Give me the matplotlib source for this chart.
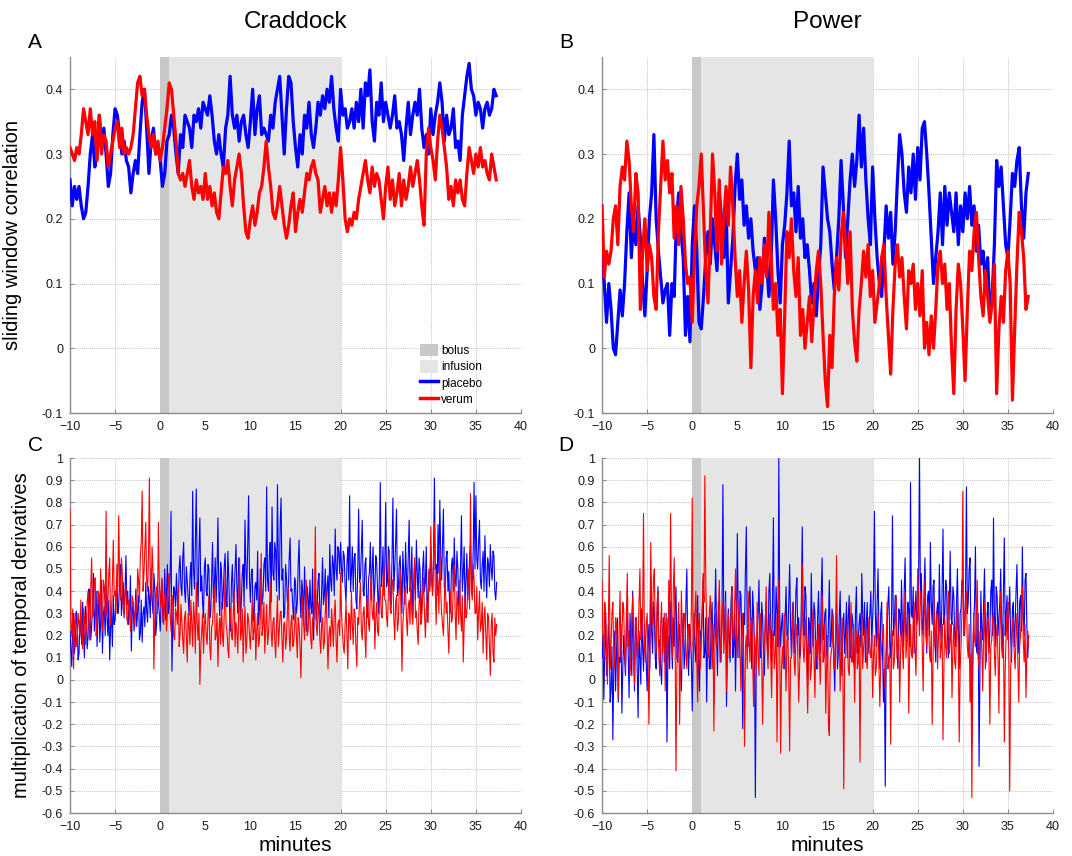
import numpy as np
import matplotlib
matplotlib.use("Agg")
import matplotlib.pyplot as plt
from matplotlib.patches import Patch
from matplotlib.lines import Line2D

plt.rcParams['font.family'] = ['Liberation Sans', 'DejaVu Sans']

# sliding window correlation, sampled every 0.25 min starting at -10 min
sw_craddock_placebo = [
    0.26, 0.22, 0.25, 0.23, 0.25, 0.22, 0.20, 0.21, 0.25, 0.30, 0.33, 0.28, 0.30, 0.36, 0.31, 0.34, 0.30, 0.25, 0.27, 0.33,
    0.37, 0.36, 0.33, 0.30, 0.32, 0.29, 0.28, 0.24, 0.27, 0.29, 0.27, 0.33, 0.38, 0.40, 0.34, 0.27, 0.32, 0.34, 0.30, 0.31,
    0.29, 0.25, 0.27, 0.32, 0.33, 0.36, 0.34, 0.30, 0.27, 0.33, 0.31, 0.36, 0.35, 0.34, 0.31, 0.36, 0.35, 0.37, 0.34, 0.38,
    0.37, 0.36, 0.39, 0.36, 0.32, 0.30, 0.33, 0.30, 0.28, 0.34, 0.36, 0.42, 0.36, 0.34, 0.36, 0.32, 0.35, 0.36, 0.33, 0.31,
    0.35, 0.40, 0.33, 0.37, 0.39, 0.33, 0.34, 0.33, 0.32, 0.36, 0.34, 0.38, 0.40, 0.42, 0.36, 0.30, 0.37, 0.42, 0.41, 0.35,
    0.31, 0.28, 0.33, 0.30, 0.36, 0.34, 0.38, 0.33, 0.31, 0.34, 0.38, 0.36, 0.39, 0.37, 0.40, 0.38, 0.42, 0.37, 0.34, 0.32,
    0.40, 0.36, 0.37, 0.34, 0.35, 0.37, 0.34, 0.38, 0.35, 0.40, 0.34, 0.41, 0.39, 0.43, 0.35, 0.32, 0.38, 0.36, 0.41, 0.35,
    0.38, 0.36, 0.34, 0.36, 0.39, 0.34, 0.35, 0.33, 0.29, 0.34, 0.38, 0.33, 0.36, 0.38, 0.36, 0.40, 0.34, 0.31, 0.33, 0.30,
    0.37, 0.33, 0.36, 0.38, 0.41, 0.38, 0.32, 0.36, 0.33, 0.34, 0.37, 0.31, 0.32, 0.29, 0.36, 0.39, 0.42, 0.44, 0.40, 0.39,
    0.36, 0.38, 0.37, 0.34, 0.37, 0.38, 0.36, 0.37, 0.40, 0.39]
sw_craddock_verum = [
    0.31, 0.30, 0.29, 0.31, 0.30, 0.33, 0.37, 0.35, 0.33, 0.37, 0.33, 0.35, 0.29, 0.36, 0.30, 0.33, 0.32, 0.28, 0.30, 0.32,
    0.34, 0.35, 0.31, 0.34, 0.30, 0.31, 0.30, 0.31, 0.33, 0.37, 0.41, 0.42, 0.39, 0.40, 0.36, 0.33, 0.31, 0.33, 0.30, 0.32,
    0.29, 0.31, 0.34, 0.37, 0.41, 0.40, 0.36, 0.32, 0.27, 0.26, 0.27, 0.25, 0.27, 0.29, 0.25, 0.23, 0.26, 0.24, 0.25, 0.23,
    0.27, 0.23, 0.25, 0.22, 0.24, 0.21, 0.20, 0.24, 0.28, 0.27, 0.29, 0.25, 0.22, 0.26, 0.28, 0.30, 0.27, 0.22, 0.18, 0.17,
    0.20, 0.22, 0.19, 0.21, 0.24, 0.25, 0.28, 0.32, 0.28, 0.25, 0.21, 0.20, 0.22, 0.25, 0.22, 0.19, 0.17, 0.19, 0.22, 0.24,
    0.18, 0.21, 0.23, 0.21, 0.24, 0.27, 0.26, 0.28, 0.29, 0.27, 0.26, 0.21, 0.23, 0.25, 0.22, 0.24, 0.21, 0.24, 0.22, 0.26,
    0.31, 0.26, 0.20, 0.18, 0.20, 0.19, 0.21, 0.20, 0.23, 0.25, 0.27, 0.29, 0.26, 0.24, 0.28, 0.25, 0.27, 0.26, 0.23, 0.20,
    0.25, 0.28, 0.23, 0.26, 0.22, 0.24, 0.27, 0.22, 0.26, 0.23, 0.25, 0.28, 0.25, 0.27, 0.29, 0.26, 0.22, 0.19, 0.30, 0.34,
    0.31, 0.29, 0.26, 0.32, 0.36, 0.34, 0.31, 0.28, 0.23, 0.25, 0.22, 0.26, 0.24, 0.26, 0.23, 0.22, 0.27, 0.31, 0.29, 0.27,
    0.30, 0.28, 0.31, 0.28, 0.29, 0.27, 0.26, 0.30, 0.28, 0.26]
sw_power_placebo = [
    0.15, 0.10, 0.04, 0.10, 0.06, 0.00, -0.01, 0.04, 0.09, 0.05, 0.10, 0.18, 0.24, 0.14, 0.20, 0.16, 0.22, 0.17, 0.10, 0.05,
    0.12, 0.20, 0.24, 0.33, 0.20, 0.15, 0.11, 0.07, 0.09, 0.10, 0.02, 0.10, 0.08, 0.20, 0.24, 0.18, 0.14, 0.02, 0.08, 0.01,
    0.16, 0.22, 0.15, 0.04, 0.03, 0.08, 0.14, 0.18, 0.13, 0.20, 0.16, 0.12, 0.24, 0.20, 0.14, 0.22, 0.07, 0.12, 0.17, 0.25,
    0.30, 0.23, 0.26, 0.19, 0.22, 0.17, 0.20, 0.15, 0.12, 0.14, 0.06, 0.10, 0.17, 0.13, 0.08, 0.14, 0.26, 0.20, 0.12, 0.07,
    0.16, 0.19, 0.24, 0.32, 0.22, 0.24, 0.18, 0.25, 0.17, 0.20, 0.14, 0.16, 0.12, 0.07, 0.10, 0.05, 0.11, 0.16, 0.28, 0.24,
    0.20, 0.18, 0.13, 0.09, 0.14, 0.20, 0.29, 0.22, 0.14, 0.20, 0.26, 0.30, 0.25, 0.29, 0.36, 0.28, 0.34, 0.26, 0.20, 0.16,
    0.28, 0.20, 0.14, 0.10, 0.08, 0.15, 0.22, 0.17, 0.21, 0.13, 0.18, 0.26, 0.33, 0.30, 0.24, 0.21, 0.28, 0.24, 0.30, 0.23,
    0.31, 0.26, 0.34, 0.35, 0.30, 0.24, 0.17, 0.10, 0.14, 0.18, 0.24, 0.16, 0.25, 0.19, 0.24, 0.21, 0.18, 0.24, 0.16, 0.22,
    0.18, 0.24, 0.20, 0.25, 0.19, 0.22, 0.15, 0.19, 0.13, 0.15, 0.10, 0.14, 0.05, 0.08, 0.16, 0.29, 0.25, 0.28, 0.22, 0.16,
    0.14, 0.20, 0.27, 0.25, 0.29, 0.31, 0.22, 0.17, 0.24, 0.27]
sw_power_verum = [
    0.22, 0.11, 0.15, 0.13, 0.15, 0.20, 0.22, 0.16, 0.25, 0.28, 0.26, 0.32, 0.29, 0.22, 0.18, 0.27, 0.24, 0.06, 0.15, 0.20,
    0.12, 0.16, 0.14, 0.08, 0.06, 0.18, 0.25, 0.32, 0.26, 0.29, 0.24, 0.27, 0.17, 0.22, 0.16, 0.25, 0.20, 0.13, 0.10, 0.11,
    0.04, 0.14, 0.22, 0.25, 0.30, 0.21, 0.12, 0.07, 0.18, 0.30, 0.24, 0.15, 0.26, 0.13, 0.20, 0.25, 0.19, 0.28, 0.22, 0.14,
    0.08, 0.12, 0.04, 0.10, 0.15, 0.09, -0.03, 0.08, 0.12, 0.07, 0.14, 0.10, 0.16, 0.11, 0.21, 0.14, 0.06, 0.10, 0.02, 0.06,
    -0.07, 0.05, 0.18, 0.14, 0.20, 0.12, 0.08, 0.14, 0.02, 0.06, 0.00, 0.04, 0.08, 0.01, 0.07, 0.12, 0.15, 0.10, 0.02, -0.05,
    -0.09, 0.02, -0.03, 0.08, 0.14, 0.09, 0.17, 0.21, 0.16, 0.10, 0.18, 0.06, 0.01, -0.02, 0.06, 0.10, 0.15, 0.11, 0.16, 0.08,
    0.12, 0.04, 0.07, 0.10, 0.14, 0.16, 0.08, 0.02, -0.04, 0.06, 0.13, 0.16, 0.11, 0.14, 0.08, 0.03, 0.12, 0.10, 0.13, 0.06,
    0.10, 0.05, 0.12, 0.00, 0.04, -0.01, 0.05, 0.00, 0.06, 0.13, 0.15, 0.10, 0.13, 0.06, 0.10, 0.00, -0.07, 0.06, 0.13, 0.10,
    0.03, -0.05, 0.06, 0.15, 0.12, 0.18, 0.21, 0.14, 0.08, 0.05, 0.12, 0.08, 0.04, 0.07, 0.13, -0.07, 0.03, 0.08, 0.04, 0.12,
    0.15, 0.10, -0.08, 0.03, 0.13, 0.21, 0.18, 0.14, 0.06, 0.08]

# multiplication of temporal derivatives, sampled every 0.1 min starting at -10 min
mtd_craddock_placebo = [
    0.22, 0.14, 0.06, 0.25, 0.30, 0.12, 0.18, 0.31, 0.26, 0.09, 0.12, 0.27, 0.22, 0.16, 0.35, 0.20, 0.10, 0.33, 0.28, 0.14, 0.19, 0.41, 0.36, 0.18, 0.24, 0.35, 0.48, 0.22, 0.30, 0.40, 0.15, 0.28, 0.39, 0.17, 0.26, 0.45, 0.12, 0.30, 0.33, 0.20, 0.42, 0.28, 0.20, 0.36, 0.09, 0.24, 0.30, 0.15, 0.38, 0.25,
    0.27, 0.38, 0.45, 0.30, 0.33, 0.46, 0.52, 0.29, 0.36, 0.44, 0.28, 0.40, 0.56, 0.34, 0.40, 0.25, 0.31, 0.47, 0.13, 0.30, 0.35, 0.22, 0.29, 0.41, 0.24, 0.32, 0.38, 0.18, 0.21, 0.36, 0.17, 0.30, 0.33, 0.24, 0.44, 0.31, 0.26, 0.42, 0.37, 0.28, 0.50, 0.36, 0.30, 0.48, 0.41, 0.20, 0.25, 0.44, 0.35, 0.30,
    0.22, 0.35, 0.45, 0.26, 0.31, 0.50, 0.27, 0.40, 0.52, 0.30, 0.33, 0.48, 0.76, 0.04, 0.25, 0.42, 0.40, 0.33, 0.48, 0.36, 0.30, 0.50, 0.56, 0.42, 0.38, 0.55, 0.62, 0.40, 0.35, 0.51, 0.44, 0.37, 0.29, 0.46, 0.53, 0.38, 0.85, 0.50, 0.41, 0.62, 0.86, 0.45, 0.33, 0.58, 0.73, 0.40, 0.47, 0.35, 0.28, 0.51,
    0.55, 0.40, 0.38, 0.52, 0.50, 0.28, 0.31, 0.45, 0.62, 0.37, 0.43, 0.55, 0.35, 0.49, 0.73, 0.40, 0.29, 0.53, 0.48, 0.32, 0.40, 0.51, 0.57, 0.38, 0.33, 0.58, 0.46, 0.30, 0.22, 0.44, 0.52, 0.35, 0.38, 0.50, 0.61, 0.42, 0.30, 0.55, 0.47, 0.26, 0.36, 0.48, 0.52, 0.33, 0.72, 0.50, 0.41, 0.60, 0.83, 0.45,
    0.35, 0.48, 0.50, 0.30, 0.26, 0.42, 0.44, 0.36, 0.58, 0.25, 0.32, 0.50, 0.47, 0.34, 0.38, 0.52, 0.55, 0.40, 0.87, 0.45, 0.40, 0.56, 0.62, 0.35, 0.78, 0.48, 0.45, 0.62, 0.58, 0.40, 0.88, 0.52, 0.36, 0.70, 0.82, 0.45, 0.50, 0.28, 0.30, 0.52, 0.46, 0.35, 0.38, 0.55, 0.64, 0.40, 0.41, 0.33, 0.27, 0.46,
    0.44, 0.30, 0.35, 0.52, 0.63, 0.38, 0.28, 0.45, 0.40, 0.25, 0.51, 0.36, 0.22, 0.42, 0.37, 0.28, 0.45, 0.33, 0.30, 0.50, 0.18, 0.35, 0.41, 0.27, 0.33, 0.44, 0.48, 0.30, 0.26, 0.40, 0.55, 0.34, 0.38, 0.50, 0.30, 0.42, 0.47, 0.28, 0.61, 0.45, 0.40, 0.56, 0.52, 0.38, 0.68, 0.50, 0.45, 0.60, 0.58, 0.48,
    0.62, 0.50, 0.44, 0.58, 0.56, 0.42, 0.35, 0.52, 0.60, 0.45, 0.83, 0.40, 0.48, 0.60, 0.40, 0.55, 0.57, 0.36, 0.32, 0.50, 0.77, 0.44, 0.46, 0.58, 0.72, 0.40, 0.38, 0.52, 0.55, 0.34, 0.28, 0.45, 0.49, 0.62, 0.36, 0.50, 0.60, 0.35, 0.42, 0.56, 0.53, 0.40, 0.30, 0.48, 0.89, 0.42, 0.47, 0.60, 0.38, 0.52,
    0.80, 0.42, 0.45, 0.60, 0.58, 0.36, 0.34, 0.55, 0.82, 0.40, 0.50, 0.62, 0.77, 0.38, 0.41, 0.52, 0.56, 0.45, 0.30, 0.58, 0.48, 0.34, 0.62, 0.47, 0.39, 0.56, 0.72, 0.40, 0.45, 0.60, 0.28, 0.42, 0.52, 0.36, 0.63, 0.48, 0.37, 0.55, 0.50, 0.30, 0.33, 0.50, 0.58, 0.40, 0.44, 0.60, 0.26, 0.38, 0.49, 0.42,
    0.60, 0.45, 0.40, 0.55, 0.91, 0.50, 0.52, 0.38, 0.70, 0.48, 0.81, 0.56, 0.45, 0.62, 0.77, 0.42, 0.38, 0.55, 0.58, 0.40, 0.49, 0.30, 0.33, 0.52, 0.55, 0.40, 0.64, 0.46, 0.42, 0.58, 0.50, 0.34, 0.36, 0.52, 0.74, 0.40, 0.48, 0.60, 0.30, 0.45, 0.57, 0.36, 0.44, 0.55, 0.62, 0.46, 0.40, 0.58, 0.89, 0.50,
    0.83, 0.55, 0.50, 0.62, 0.72, 0.45, 0.41, 0.52, 0.58, 0.40, 0.65, 0.48, 0.37, 0.55, 0.52, 0.42, 0.61, 0.50, 0.45, 0.58, 0.56, 0.40, 0.36, 0.44]
mtd_craddock_verum = [
    0.77, 0.25, 0.20, 0.32, 0.05, 0.26, 0.30, 0.15, 0.18, 0.30, 0.25, 0.20, 0.36, 0.22, 0.14, 0.32, 0.28, 0.16, 0.22, 0.35, 0.40, 0.26, 0.18, 0.42, 0.55, 0.28, 0.30, 0.45, 0.46, 0.20, 0.25, 0.40, 0.38, 0.30, 0.50, 0.26, 0.22, 0.45, 0.42, 0.28, 0.76, 0.30, 0.35, 0.48, 0.55, 0.25, 0.30, 0.44, 0.63, 0.38,
    0.40, 0.30, 0.52, 0.42, 0.74, 0.45, 0.36, 0.55, 0.48, 0.32, 0.30, 0.40, 0.42, 0.28, 0.25, 0.36, 0.33, 0.22, 0.28, 0.38, 0.35, 0.30, 0.24, 0.36, 0.30, 0.50, 0.45, 0.35, 0.56, 0.62, 0.85, 0.40, 0.48, 0.60, 0.71, 0.45, 0.40, 0.55, 0.91, 0.42, 0.36, 0.60, 0.50, 0.05, 0.27, 0.38, 0.42, 0.30, 0.71, 0.45,
    0.33, 0.40, 0.46, 0.28, 0.25, 0.38, 0.40, 0.22, 0.30, 0.45, 0.48, 0.30, 0.22, 0.38, 0.35, 0.20, 0.18, 0.32, 0.30, 0.25, 0.42, 0.15, 0.20, 0.34, 0.26, 0.18, 0.12, 0.28, 0.31, 0.20, 0.08, 0.30, 0.24, 0.16, 0.36, 0.25, 0.15, 0.35, 0.28, 0.12, 0.44, 0.26, 0.18, 0.30, -0.02, 0.15, 0.22, 0.30, 0.12, 0.25,
    0.30, 0.20, 0.16, 0.28, 0.38, 0.15, 0.09, 0.24, 0.25, 0.35, 0.42, 0.18, 0.20, 0.30, 0.06, 0.22, 0.28, 0.16, 0.35, 0.20, 0.15, 0.30, 0.48, 0.25, 0.22, 0.14, 0.10, 0.28, 0.32, 0.20, 0.18, 0.30, 0.40, 0.15, 0.26, 0.22, 0.12, 0.30, 0.55, 0.18, 0.21, 0.32, 0.08, 0.25, 0.33, 0.12, 0.17, 0.30, 0.27, 0.20,
    0.14, 0.25, 0.36, 0.18, 0.22, 0.30, 0.09, 0.22, 0.30, 0.15, 0.18, 0.28, 0.57, 0.20, 0.25, 0.35, 0.12, 0.24, 0.34, 0.16, 0.20, 0.30, 0.44, 0.22, 0.15, 0.26, 0.28, 0.18, 0.10, 0.25, 0.38, 0.15, 0.22, 0.30, 0.31, 0.18, 0.08, 0.25, 0.26, 0.14, 0.19, 0.30, 0.42, 0.20, 0.13, 0.26, 0.29, 0.15, 0.17, 0.24,
    0.33, 0.20, 0.10, 0.28, 0.24, 0.15, 0.01, 0.22, 0.38, 0.26, 0.18, 0.30, 0.45, 0.20, 0.22, 0.32, 0.30, 0.18, 0.14, 0.28, 0.26, 0.35, 0.69, 0.25, 0.20, 0.30, 0.35, 0.18, 0.12, 0.25, 0.28, 0.14, 0.17, 0.30, 0.40, 0.22, 0.05, 0.20, 0.24, 0.15, 0.32, 0.25, 0.15, 0.30, 0.36, 0.18, 0.08, 0.25, 0.27, 0.20,
    0.48, 0.30, 0.22, 0.15, 0.12, 0.25, 0.35, 0.20, 0.05, 0.30, 0.28, 0.18, 0.40, 0.25, 0.16, 0.32, 0.30, 0.15, 0.06, 0.28, 0.25, 0.36, 0.44, 0.22, 0.18, 0.30, 0.33, 0.20, 0.10, 0.34, 0.38, 0.25, 0.22, 0.40, 0.48, 0.30, 0.27, 0.38, 0.14, 0.28, 0.35, 0.22, 0.20, 0.35, 0.42, 0.30, 0.28, 0.44, 0.52, 0.36,
    0.36, 0.28, 0.24, 0.40, 0.58, 0.32, 0.30, 0.45, 0.45, 0.28, 0.18, 0.35, 0.38, 0.22, 0.26, 0.40, 0.50, 0.30, 0.04, 0.25, 0.32, 0.40, 0.42, 0.28, 0.20, 0.33, 0.36, 0.25, 0.48, 0.30, 0.25, 0.42, 0.55, 0.28, 0.31, 0.22, 0.16, 0.35, 0.40, 0.25, 0.28, 0.38, 0.46, 0.30, 0.19, 0.32, 0.35, 0.26, 0.50, 0.40,
    0.69, 0.45, 0.38, 0.55, 0.71, 0.40, 0.25, 0.48, 0.44, 0.30, 0.58, 0.40, 0.30, 0.25, 0.20, 0.35, 0.47, 0.30, 0.35, 0.22, 0.12, 0.30, 0.40, 0.26, 0.28, 0.45, 0.52, 0.30, 0.18, 0.40, 0.34, 0.25, 0.45, 0.30, 0.22, 0.38, 0.08, 0.25, 0.38, 0.28, 0.30, 0.42, 0.50, 0.32, 0.84, 0.40, 0.36, 0.52, 0.45, 0.30,
    0.30, 0.42, 0.18, 0.30, 0.40, 0.22, 0.25, 0.35, 0.12, 0.28, 0.33, 0.20, 0.09, 0.30, 0.28, 0.15, 0.02, 0.25, 0.30, 0.12, 0.08, 0.28, 0.20, 0.25]
mtd_power_placebo = [
    0.10, 0.20, -0.09, 0.12, 0.30, 0.02, 0.05, 0.25, 0.18, -0.10, -0.04, 0.15, -0.27, 0.05, 0.22, -0.05, 0.12, 0.28, -0.10, 0.10, 0.08, 0.25, -0.15, 0.05, 0.20, 0.10, 0.02, 0.22, 0.35, 0.12, -0.08, 0.30, 0.15, 0.02, 0.40, 0.15, -0.05, 0.28, 0.25, 0.05, -0.17, 0.22, 0.10, -0.02, 0.32, 0.15, 0.04, 0.25, 0.18, 0.08,
    -0.05, 0.15, 0.25, 0.05, 0.48, 0.22, 0.12, 0.35, 0.30, 0.10, 0.05, 0.28, 0.42, 0.15, 0.18, 0.05, -0.02, 0.20, 0.28, 0.08, 0.10, 0.30, -0.28, 0.10, 0.20, 0.05, 0.35, 0.18, 0.05, 0.28, 0.15, 0.32, 0.42, 0.10, 0.08, 0.20, 0.25, 0.05, -0.05, 0.18, 0.30, 0.05, 0.12, 0.35, 0.50, 0.15, 0.02, 0.25, 0.22, 0.10,
    -0.14, 0.10, 0.30, 0.15, 0.08, 0.25, 0.38, 0.05, -0.05, 0.22, 0.20, 0.30, 0.45, 0.10, 0.12, 0.28, -0.10, 0.18, 0.28, 0.05, 0.05, 0.25, 0.35, 0.12, 0.18, 0.30, 0.50, 0.20, 0.02, 0.35, 0.25, 0.08, 0.12, 0.30, 0.88, 0.25, 0.20, 0.40, -0.12, 0.15, 0.32, 0.20, 0.08, 0.35, 0.42, 0.10, 0.15, 0.30, -0.05, 0.25,
    0.66, 0.30, 0.10, 0.40, 0.38, 0.18, -0.22, 0.30, 0.25, 0.50, 0.69, 0.20, 0.15, 0.35, 0.42, 0.25, 0.05, 0.40, 0.30, 0.15, -0.53, 0.10, 0.20, 0.30, 0.45, 0.15, 0.10, 0.35, 0.28, 0.12, 0.02, 0.28, 0.35, 0.18, 0.12, 0.40, 0.48, 0.22, 0.08, 0.35, 0.73, 0.20, 0.22, 0.42, 0.30, 0.15, 1.00, 0.30, 0.15, 0.25,
    0.30, 0.18, 0.05, 0.28, 0.42, 0.20, 0.18, 0.35, 0.52, 0.25, 0.10, 0.30, 0.35, 0.12, 0.22, 0.40, 0.46, 0.20, 0.28, 0.10, 0.12, 0.35, 0.69, 0.25, 0.20, 0.42, 0.38, 0.15, -0.02, 0.28, 0.25, 0.12, 0.48, 0.22, 0.15, 0.35, 0.30, 0.10, 0.05, 0.28, 0.40, 0.20, 0.12, 0.38, 0.55, 0.18, 0.20, 0.30, 0.32, 0.12,
    0.08, 0.25, 0.45, 0.15, 0.18, 0.32, 0.28, 0.10, -0.05, 0.20, 0.35, 0.05, 0.12, 0.28, 0.40, 0.15, 0.02, 0.25, 0.30, 0.12, 0.22, 0.35, 0.10, 0.28, 0.38, 0.10, 0.15, 0.30, 0.26, 0.08, 0.05, 0.30, 0.42, 0.12, 0.18, 0.25, 0.30, 0.15, 0.48, 0.28, 0.20, 0.35, 0.08, 0.25, 0.35, 0.12, 0.25, 0.30, 0.40, 0.15,
    0.28, 0.40, 0.76, 0.30, 0.15, 0.35, 0.50, 0.22, 0.05, 0.30, 0.35, 0.12, -0.10, 0.05, -0.48, 0.10, 0.22, 0.35, 0.42, 0.15, 0.10, 0.30, 0.74, 0.20, 0.25, 0.38, 0.38, 0.15, 0.05, 0.32, 0.30, 0.20, 0.45, 0.25, 0.15, 0.40, 0.55, 0.22, 0.20, 0.35, 0.32, 0.15, 0.89, 0.30, 0.28, 0.42, 0.12, 0.30, 0.40, 0.25,
    0.30, 0.45, 1.00, 0.35, 0.48, 0.25, 0.20, 0.40, 0.55, 0.30, 0.12, 0.38, 0.40, 0.20, 0.62, 0.35, 0.25, 0.42, 0.45, 0.18, 0.08, 0.30, 0.35, 0.22, 0.52, 0.28, 0.18, 0.40, 0.68, 0.25, 0.30, 0.45, 0.42, 0.20, 0.10, 0.35, 0.58, 0.28, 0.25, 0.42, 0.38, 0.20, 0.15, 0.35, 0.50, 0.25, 0.05, 0.30, 0.32, 0.45,
    0.45, 0.28, 0.20, 0.40, 0.87, 0.30, 0.35, 0.50, 0.55, 0.20, -0.30, 0.10, 0.25, 0.35, 0.60, 0.15, 0.12, 0.30, -0.39, 0.05, 0.40, 0.22, 0.18, 0.35, 0.50, 0.25, 0.08, 0.30, 0.35, 0.12, 0.22, 0.40, 0.45, 0.20, 0.73, 0.30, 0.15, 0.42, 0.38, 0.20, 0.28, 0.35, 0.50, 0.25, 0.10, 0.40, 0.64, 0.20, 0.30, 0.38,
    0.18, 0.30, 0.42, 0.20, 0.08, 0.32, 0.35, 0.15, 0.25, 0.40, 0.52, 0.28, 0.12, 0.35, 0.38, 0.22, 0.60, 0.30, 0.20, 0.45, 0.48, 0.25, 0.10, 0.20]
mtd_power_verum = [
    0.45, 0.20, 0.10, 0.35, 0.30, 0.12, -0.02, 0.25, 0.56, 0.05, 0.15, 0.30, 0.35, 0.12, 0.05, 0.28, 0.25, 0.15, -0.08, 0.22, 0.40, 0.10, 0.18, 0.35, 0.32, 0.12, 0.05, 0.30, 0.48, 0.15, 0.22, 0.02, 0.10, 0.30, 0.38, 0.12, -0.02, 0.25, 0.28, 0.10, 0.15, 0.35, 0.50, 0.18, 0.20, 0.30, 0.75, 0.15, 0.08, 0.25,
    0.30, 0.10, -0.20, 0.15, 0.62, 0.30, 0.25, 0.45, 0.50, 0.20, 0.12, 0.35, 0.40, 0.10, 0.02, 0.25, 0.35, 0.12, 0.18, 0.30, -0.05, 0.18, 0.28, 0.05, 0.45, 0.20, 0.75, 0.30, 0.10, 0.40, 0.55, 0.20, -0.41, 0.05, 0.22, 0.35, -0.20, 0.10, 0.40, 0.20, 0.15, 0.28, 0.30, 0.12, 0.05, 0.22, 0.25, 0.10, 0.18, 0.30,
    0.82, 0.15, 0.20, 0.30, 0.40, 0.10, -0.10, 0.25, 0.30, 0.05, 0.15, 0.28, 0.48, 0.35, 0.92, 0.45, 0.25, 0.12, 0.10, 0.30, 0.38, 0.20, 0.05, 0.25, -0.23, 0.10, 0.30, 0.15, 0.18, 0.30, 0.45, 0.20, 0.08, 0.28, 0.35, 0.12, 0.22, 0.35, -0.05, 0.18, 0.30, 0.10, 0.12, 0.25, 0.42, 0.20, 0.18, 0.35, 0.50, 0.22,
    0.10, 0.25, 0.35, 0.12, -0.05, 0.20, 0.30, 0.08, -0.30, 0.15, 0.20, 0.05, 0.40, 0.18, 0.08, 0.25, 0.28, 0.10, -0.12, 0.20, 0.15, 0.05, 0.35, 0.12, 0.02, 0.30, 0.25, 0.10, -0.20, 0.08, 0.18, 0.25, 0.42, 0.15, 0.05, 0.22, 0.30, 0.10, -0.08, 0.20, 0.22, 0.05, 0.12, 0.28, -0.28, 0.10, 0.45, 0.15, -0.33, 0.05,
    0.15, 0.05, 0.30, 0.12, -0.05, 0.18, 0.20, 0.02, -0.32, 0.10, 0.10, 0.22, 0.35, 0.08, 0.02, 0.20, 0.25, 0.12, -0.10, 0.05, 0.18, 0.25, 0.52, 0.15, 0.08, 0.20, 0.28, 0.05, -0.15, 0.12, 0.20, 0.00, 0.05, 0.22, 0.32, 0.10, -0.08, 0.18, 0.15, 0.05, 0.25, 0.12, -0.02, 0.20, 0.38, 0.08, 0.10, 0.25, -0.15, 0.05,
    0.20, -0.20, -0.25, 0.08, 0.12, 0.15, 0.30, 0.05, 0.05, 0.22, 0.56, 0.10, 0.18, 0.25, -0.05, 0.12, 0.28, 0.05, -0.49, 0.10, 0.10, 0.20, 0.25, 0.05, 0.02, 0.15, 0.35, 0.08, 0.12, 0.25, -0.10, 0.15, 0.22, 0.05, 0.08, 0.20, -0.37, 0.12, 0.30, 0.05, 0.15, 0.20, 0.25, 0.10, 0.05, 0.18, 0.28, 0.12, 0.10, 0.20,
    -0.08, 0.10, 0.20, 0.02, 0.05, 0.18, 0.30, 0.05, -0.12, 0.08, 0.15, 0.20, 0.25, 0.02, -0.05, 0.15, 0.35, 0.05, 0.10, 0.12, -0.29, 0.15, 0.22, 0.05, 0.08, 0.25, 0.38, 0.10, 0.15, 0.20, -0.10, 0.12, 0.28, 0.15, 0.05, 0.22, 0.40, 0.10, 0.18, 0.30, -0.15, 0.10, 0.25, 0.12, 0.10, 0.28, 0.35, 0.15, 0.02, 0.25,
    0.50, 0.30, 0.20, 0.40, 0.35, 0.15, -0.05, 0.25, 0.45, 0.20, 0.15, 0.35, 0.30, 0.12, 0.08, 0.22, -0.20, 0.10, 0.38, 0.15, 0.22, 0.30, 0.05, 0.20, 0.32, 0.10, 0.15, 0.25, -0.27, 0.05, 0.28, 0.15, 0.10, 0.30, 0.40, 0.12, 0.18, 0.25, -0.08, 0.15, 0.25, 0.08, 0.05, 0.22, 0.35, 0.12, -0.28, 0.05, 0.15, 0.30,
    0.85, 0.20, 0.25, 0.35, 0.40, 0.15, 0.10, 0.25, -0.10, 0.12, -0.53, 0.05, 0.30, 0.18, 0.15, 0.30, 0.45, 0.10, 0.05, 0.22, 0.22, 0.15, -0.05, 0.20, 0.35, 0.05, 0.12, 0.25, 0.28, 0.10, -0.20, 0.15, 0.18, 0.28, 0.30, 0.12, 0.02, 0.20, 0.25, 0.10, -0.15, 0.22, 0.40, 0.15, 0.10, 0.25, -0.28, 0.05, 0.20, 0.30,
    0.35, 0.10, -0.50, 0.05, 0.15, 0.25, 0.28, 0.12, 0.05, 0.20, 0.30, 0.08, -0.10, 0.15, 0.20, 0.30, 0.42, 0.18, 0.08, 0.25, -0.08, 0.12, 0.22, 0.15]

bolus = (0, 1)
infusion = (0, 20)
xticks = list(range(-10, 45, 5))
yticks_sw = [-0.1, 0, 0.1, 0.2, 0.3, 0.4]
yticks_mtd = [-0.6, -0.5, -0.4, -0.3, -0.2, -0.1, 0, 0.1, 0.2, 0.3, 0.4, 0.5, 0.6, 0.7, 0.8, 0.9, 1]

BLUE = '#0000ff'
RED = '#ff0000'


def minutes(values, step):
    return -10 + step * np.arange(len(values))


def style(ax, yticks, ylim):
    ax.axvspan(*infusion, color='#e5e5e5', lw=0, zorder=1)
    ax.axvspan(*bolus, color='#c8c8c8', lw=0, zorder=1)
    ax.set_xlim(-10, 40)
    ax.set_ylim(*ylim)
    ax.set_xticks(xticks)
    ax.set_yticks(yticks)
    ax.set_yticklabels([f'{v:g}' for v in yticks])
    ax.grid(True, color='#c4c4c4', linestyle=(0, (1, 1)), linewidth=0.7, zorder=0)
    ax.set_axisbelow(True)
    for s in ['top', 'right']:
        ax.spines[s].set_visible(False)
    for s in ['left', 'bottom']:
        ax.spines[s].set_color('#8c8c8c')
        ax.spines[s].set_linewidth(1.0)
    ax.tick_params(direction='in', length=3, color='#8c8c8c', labelsize=9,
                   labelcolor='#1a1a1a')
    ax.tick_params(axis='x', pad=6)
    ax.tick_params(axis='y', pad=5)


fig = plt.figure(figsize=(10.72, 8.56), dpi=100)
axA = fig.add_axes([0.0653, 0.5175, 0.4207, 0.416])
axB = fig.add_axes([0.5616, 0.5175, 0.4207, 0.416])
axC = fig.add_axes([0.0653, 0.0502, 0.4207, 0.4147])
axD = fig.add_axes([0.5616, 0.0502, 0.4207, 0.4147])

for ax, pl, ve in [(axA, sw_craddock_placebo, sw_craddock_verum),
                   (axB, sw_power_placebo, sw_power_verum)]:
    style(ax, yticks_sw, (-0.1, 0.45))
    ax.plot(minutes(pl, 0.25), pl, color=BLUE, lw=2.3, zorder=3)
    ax.plot(minutes(ve, 0.25), ve, color=RED, lw=2.3, zorder=4)

for ax, pl, ve in [(axC, mtd_craddock_placebo, mtd_craddock_verum),
                   (axD, mtd_power_placebo, mtd_power_verum)]:
    style(ax, yticks_mtd, (-0.6, 1.0))
    ax.plot(minutes(pl, 0.1), pl, color=BLUE, lw=0.8, zorder=3)
    ax.plot(minutes(ve, 0.1), ve, color=RED, lw=0.8, zorder=4)
    ax.set_xlabel('minutes', fontsize=15, labelpad=2)

axA.set_ylabel('sliding window correlation', fontsize=14.5, labelpad=14)
axC.set_ylabel('multiplication of temporal derivatives', fontsize=14.5, labelpad=8)

fig.text(0.2757, 0.974, 'Craddock', fontsize=17.5, ha='center', va='center')
fig.text(0.7719, 0.974, 'Power', fontsize=17.5, ha='center', va='center')
for letter, x, y in [('A', 0.033, 0.95), ('B', 0.528, 0.95),
                     ('C', 0.033, 0.48), ('D', 0.528, 0.48)]:
    fig.text(x, y, letter, fontsize=15, ha='center', va='center')

handles = [Patch(facecolor='#c8c8c8', edgecolor='none', label='bolus'),
           Patch(facecolor='#e5e5e5', edgecolor='none', label='infusion'),
           Line2D([], [], color=BLUE, lw=2.5, label='placebo'),
           Line2D([], [], color=RED, lw=2.5, label='verum')]
axA.legend(handles=handles, loc='lower right', bbox_to_anchor=(0.93, 0.0),
           frameon=False, fontsize=8.5, handlelength=1.5, handleheight=1.3,
           handletextpad=0.3, labelspacing=0.25, borderaxespad=0.2)

fig.savefig('out.png', dpi=100)
